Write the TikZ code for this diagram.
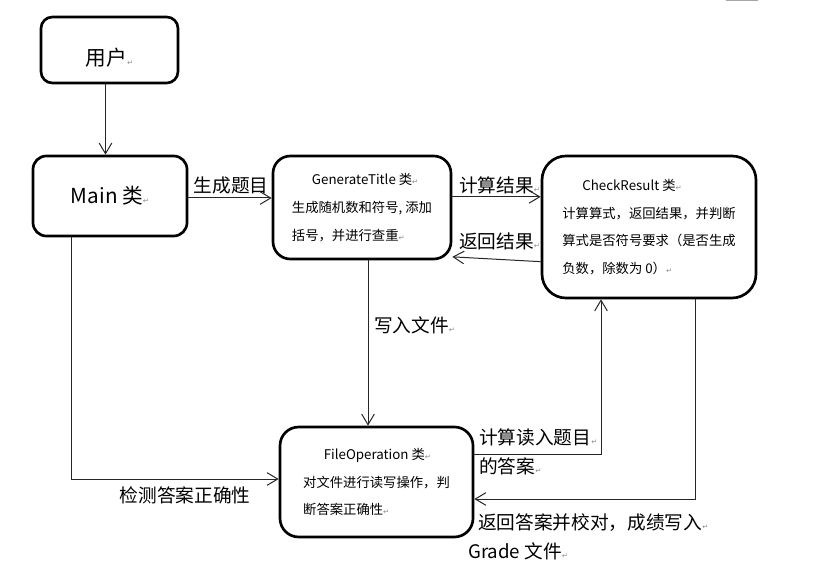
\documentclass[tikz,border=0pt]{standalone}
\usepackage{fontspec}
\setmainfont{Noto Sans CJK SC}
\newfontfamily\symfont{DejaVu Sans}
\usetikzlibrary{calc}
\usetikzlibrary{arrows.meta}
\tikzset{
  box/.style            = { rectangle, inner sep=0pt },
  border/.style         = { line width=2pt, draw=black },
  round/.style          = { rounded corners=#1 },
}
\tikzset{
  class/.style={
    box,
    border,
    align=left,
    font=\fontsize{10pt}{20.75pt}\selectfont
  },
  bigclass/.style       = { class, align=center, font=\fontsize{15.5pt}{18pt}\selectfont },
  message/.style        = { inner sep=0pt, align=left, font=\fontsize{14pt}{21.75pt}\selectfont },
  relation/.style       = { line width=0.75pt, draw=black!85 },
  flow/.style           = { relation, -{Straight Barb[length=8pt,width=9.5pt]} }
}
\newcommand{\pmk}{{\symfont\color{black!45}\fontsize{5.5pt}{5.5pt}\selectfont ↵}}

\begin{document}
\begin{tikzpicture}[x=0.75pt, y=-0.75pt]
  \useasboundingbox (0,0) rectangle (823,577);
  \node (user)     [bigclass, round=8.5pt, minimum width=102.75pt, minimum height=49.5pt] at (109.5,50) {\raisebox{-6pt}[\height][\depth]{用户\pmk}};
  \node (main)     [bigclass, round=10pt, minimum width=115.5pt, minimum height=60pt] at (110,196) {Main 类\pmk};
  \node (generate) [class, round=13pt, minimum width=133.5pt, minimum height=77.25pt] at (362,207.5)
    {\hspace*{15pt}GenerateTitle 类\pmk\\生成随机数和符号, 添加\\括号，并进行查重\pmk};
  \node (check)    [class, round=18pt, minimum width=160.5pt, minimum height=106.5pt] at (649,227)
    {\hspace*{15pt}CheckResult 类\pmk\\计算算式，返回结果，并判断\\算式是否符号要求（是否生成\\负数，除数为 0）\pmk};
  \node (fileop)   [class, round=14pt, minimum width=144.75pt, minimum height=82.5pt] at (376.5,482)
    {\hspace*{15.5pt}FileOperation 类\pmk\\对文件进行读写操作，判\\断答案正确性\pmk};

  \node (lblgen)    [message]              at (231,185)   {生成题目};
  \node (lblcalc)   [message, anchor=west] at (459,185)   {计算结果\pmk};
  \node (lblback)   [message, anchor=west] at (459,241)   {返回结果\pmk};
  \node (lblwrite)  [message, anchor=west] at (374,325)   {写入文件\pmk};
  \node (lblcheck)  [message]              at (185,495)   {检测答案正确性};
  \node (lblanswer) [message, anchor=west] at (479,451.5) {计算读入题目\pmk\\的答案\pmk};
  \node (lblgrade)  [message, anchor=west] at (468,537)   {\hspace*{7.5pt}返回答案并校对，成绩写入\pmk\\Grade 文件\pmk};

  \draw [flow] ([xshift=-3pt]user.south) -- ([xshift=-3pt]user.south |- main.north);
  \draw [flow] ([yshift=-1.5pt]main.east) -- ([yshift=-1.5pt]main.east -| generate.west);
  \draw [flow] ([yshift=8pt]generate.east) -- ([yshift=8pt]generate.east -| check.west);
  \draw [flow] ([yshift=-26pt]check.west) -- ([yshift=-37pt]generate.east);
  \draw [flow] ([xshift=4.5pt]generate.south) -- ([xshift=4.5pt]generate.south |- fileop.north);
  \draw [flow] ([xshift=-29.25pt]main.south) |- ([yshift=2.25pt]fileop.west);
  \draw [flow] ([yshift=21pt]fileop.east) -| ([xshift=-36pt]check.south);
  \draw [flow] ([xshift=34.5pt]check.south) |- ([yshift=-12.75pt]fileop.east);

  \draw [black!35, line width=1.2pt] (726,0.6) -- (758,0.6);
\end{tikzpicture}
\end{document}
